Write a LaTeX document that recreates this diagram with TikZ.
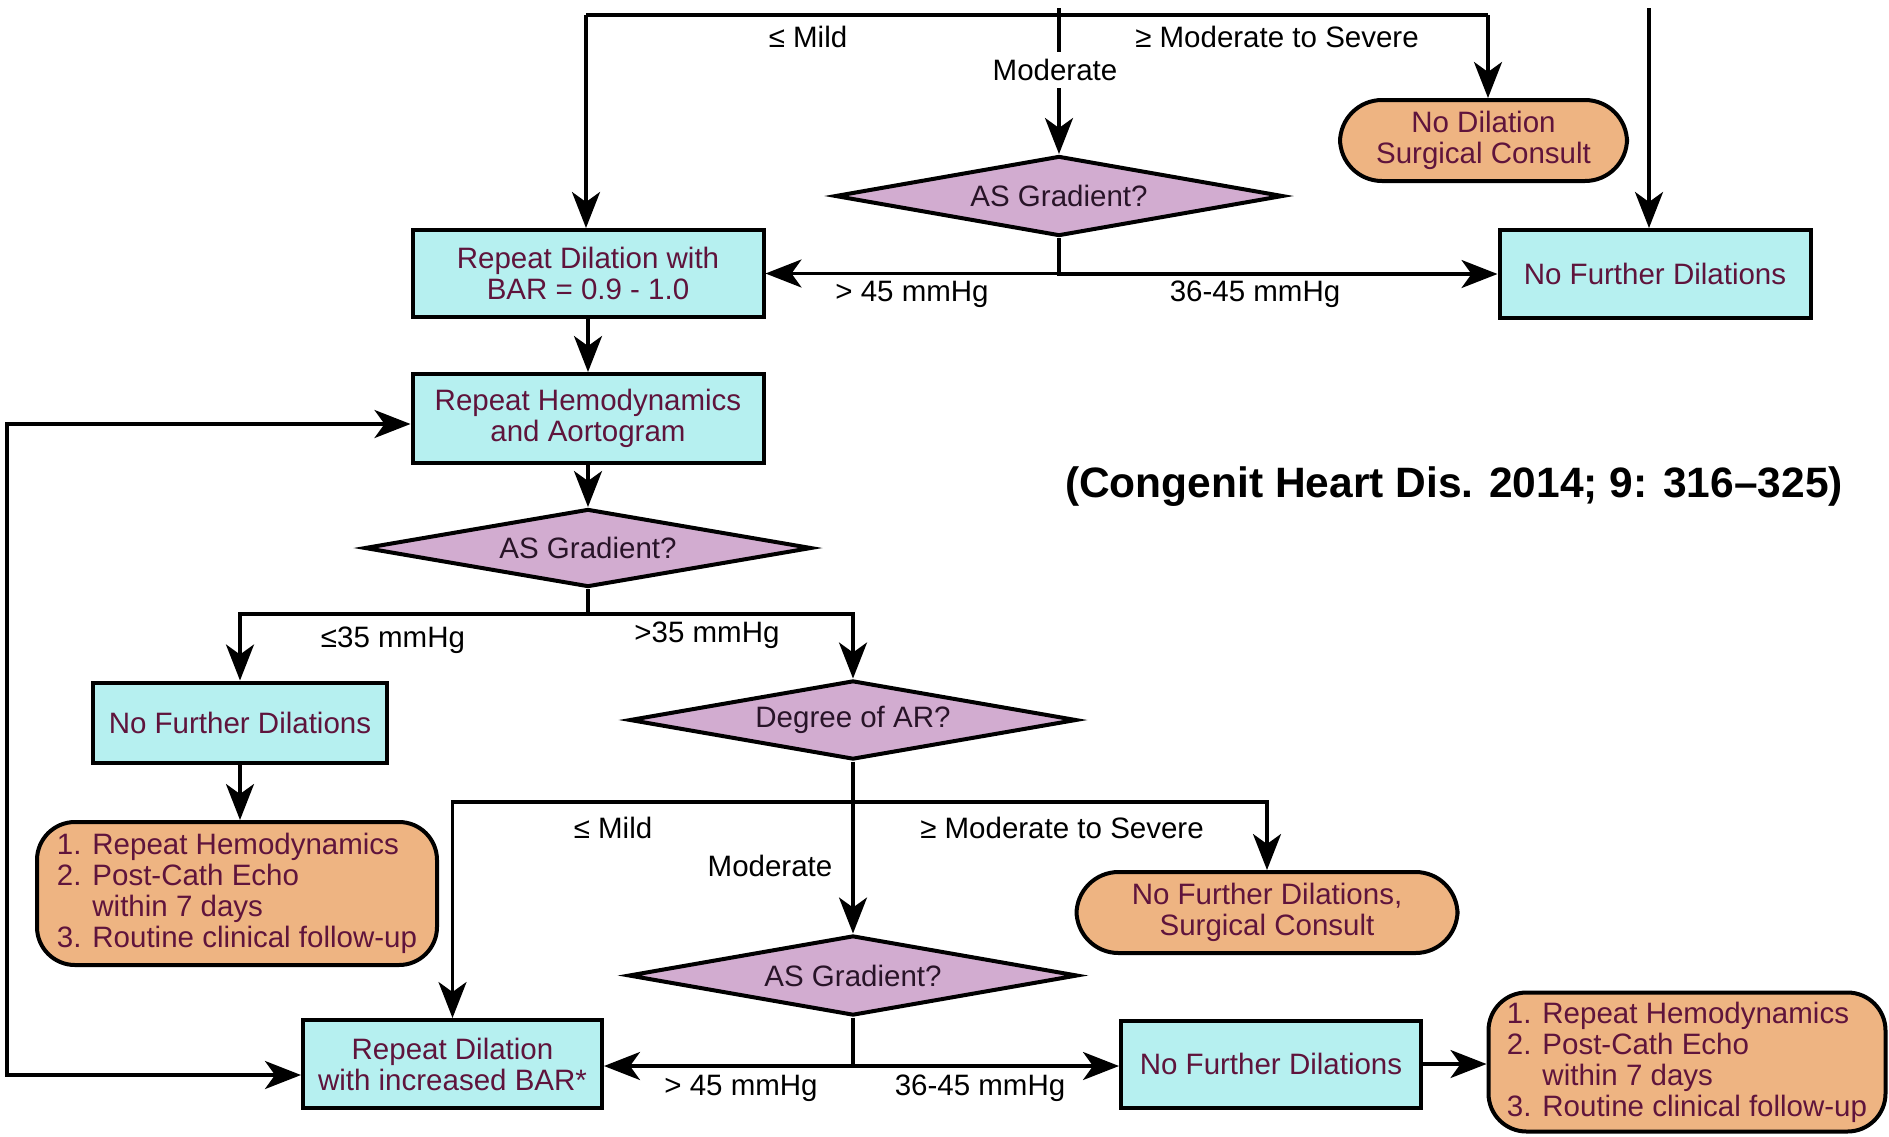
\documentclass[tikz,border=0pt]{standalone}
\usepackage{fontspec}
\setmainfont{Liberation Sans}
\usetikzlibrary{shapes.geometric,arrows.meta}
\definecolor{boxfill}{RGB}{182,240,240}
\definecolor{orfill}{RGB}{238,180,130}
\definecolor{diafill}{RGB}{210,172,208}
\definecolor{txtc}{RGB}{95,20,60}
\definecolor{diatxt}{RGB}{40,20,40}
\begin{document}
\begin{tikzpicture}[x=1pt,y=-1pt,
  base/.style={font=\fontsize{29.5pt}{31pt}\selectfont, inner sep=0pt, align=center},
  cbox/.style={base, rectangle, draw, line width=4pt, fill=boxfill, text=txtc},
  obox/.style={base, rectangle, rounded corners=#1, draw, line width=4pt, fill=orfill, text=txtc},
  obox/.default=40pt,
  dia/.style={base, diamond, aspect=5.4, inner sep=2pt, draw, line width=4pt, fill=diafill, text=diatxt},
  lab/.style={base, text=black},
  conn/.style={line width=3.4pt},
  arr/.style={conn, -{Stealth[length=36pt,width=28pt,inset=10pt]}},
  arrboth/.style={conn, {Stealth[length=36pt,width=28pt,inset=10pt]}-{Stealth[length=36pt,width=28pt,inset=10pt]}}
]
\useasboundingbox (0,0) rectangle (1889,1136);
\fill[white] (0,0) rectangle (1889,1136);

% nodes
\node[cbox, minimum width=351pt, minimum height=87pt] (b1) at (588,273.5) {Repeat Dilation with\\BAR = 0.9 - 1.0};
\node[cbox, minimum width=351pt, minimum height=89pt] (b2) at (588,418.5) {Repeat Hemodynamics\\and Aortogram};
\node[cbox, minimum width=311pt, minimum height=88pt] (nfd1) at (1655,274) {No Further Dilations};
\node[obox=42pt, minimum width=287pt, minimum height=81pt] (nodil) at (1483.5,140.5) {No Dilation\\Surgical Consult};
\node[dia, minimum width=448pt, minimum height=80pt] (d1) at (1059,196) {AS Gradient?};
\node[dia, minimum width=447pt, minimum height=78pt] (d2) at (588,548) {AS Gradient?};
\node[cbox, minimum width=294pt, minimum height=80pt] (nfd2) at (240,722.5) {No Further Dilations};
\node[obox=38pt, minimum width=400pt, minimum height=143pt, align=left] (l1) at (237,893.5) {1. Repeat Hemodynamics\\2. Post-Cath Echo\\\phantom{2. }within 7 days\\3. Routine clinical follow-up};
\node[dia, minimum width=447pt, minimum height=79pt] (dar) at (853,720) {Degree of AR?};
\node[obox=42pt, minimum width=381pt, minimum height=81pt] (nfdsc) at (1267,912.5) {No Further Dilations,\\Surgical Consult};
\node[dia, minimum width=449pt, minimum height=80pt] (d3) at (853,975.5) {AS Gradient?};
\node[cbox, minimum width=299pt, minimum height=88pt] (rdinc) at (452.5,1064) {Repeat Dilation\\with increased BAR*};
\node[cbox, minimum width=300pt, minimum height=87pt] (nfd3) at (1271,1064) {No Further Dilations};
\node[obox=38pt, minimum width=397pt, minimum height=139pt, align=left] (l2) at (1687,1062) {1. Repeat Hemodynamics\\2. Post-Cath Echo\\\phantom{2. }within 7 days\\3. Routine clinical follow-up};

% labels
\node[lab] (lmild1) at (808,37) {≤ Mild};
\node[lab] (lsev1) at (1277,37) {≥ Moderate to Severe};
\node[lab, minimum height=36pt] (mod1) at (1055,70) {Moderate};
\node[lab] (lg45a) at (912,294) {> 45 mmHg};
\node[lab] (l3645a) at (1255,294) {36-45 mmHg};
\node[lab] (lle35) at (393,640) {≤35 mmHg};
\node[lab] (lgt35) at (707,635) {>35 mmHg};
\node[lab] (lmild2) at (613,828) {≤ Mild};
\node[lab] (mod2) at (770,866) {Moderate};
\node[lab] (lsev2) at (1062,828) {≥ Moderate to Severe};
\node[lab] (lg45b) at (741,1088) {> 45 mmHg};
\node[lab] (l3645b) at (980,1088) {36-45 mmHg};
\node[font=\fontsize{42.5pt}{48pt}\selectfont\bfseries, inner sep=0pt] (cite) at (1454,487) {(Congenit Heart Dis. 2014; 9: 316–325)};

% top connectors
\coordinate (ctop) at (1059,8);
\coordinate (lj) at (586,15);
\coordinate (rj) at (1488,15);
\coordinate (rtop) at (1649,8);
\draw[conn] (lj) -- (rj);
\draw[arr] (lj) -- (lj |- b1.north);
\draw[arr] (rj) -- (rj |- nodil.north);
\draw[conn] (ctop) -- (ctop |- mod1.north);
\draw[arr] (ctop |- mod1.south) -- (d1.north);
\draw[arr] (rtop) -- (rtop |- nfd1.north);
\draw[arr] (d1.south) |- (b1.east);
\draw[arr] (d1.south) |- (nfd1.west);

% middle
\draw[arr] (b1) -- (b2);
\draw[arr] (b2) -- (d2);
\coordinate (j2) at (588,614);
\draw[conn] (d2.south) -- (j2);
\draw[arr] (j2) -| (nfd2.north);
\draw[arr] (j2) -| (dar.north);
\draw[arr] (nfd2.south) -- (nfd2.south |- l1.north);

% lower
\coordinate (j3) at (853,802);
\draw[conn] (dar.south) -- (j3);
\draw[arr] (j3) -| (rdinc.north);
\draw[arr] (j3) -| (nfdsc.north);
\draw[arr] (j3) -- (d3.north);
\coordinate (j4) at (853,1066);
\draw[conn] (d3.south) -- (j4);
\draw[arr] (j4) -- (j4 -| rdinc.east);
\draw[arr] (j4) -- (j4 -| nfd3.west);
\draw[arr] (nfd3.east) -- (l2.west |- nfd3.east);

% feedback loop
\coordinate (fb1) at (7,424);
\coordinate (fb2) at (7,1075);
\draw[arrboth] (b2.west |- fb1) -- (fb1) -- (fb2) -- (rdinc.west |- fb2);
\end{tikzpicture}
\end{document}
